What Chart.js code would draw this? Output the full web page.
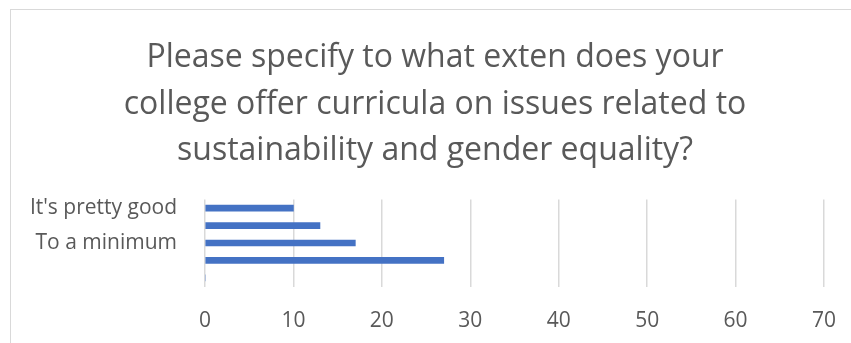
<!DOCTYPE html>
<html lang="en">
<head>
    <meta charset="UTF-8">
    <title>Sustainability and gender equality curricula</title>
    <style>
        html, body {
            margin: 0;
            padding: 0;
            background-color: #ffffff;
            overflow: hidden;
        }
        .frame {
            position: absolute;
            left: 10px;
            top: 9px;
            width: 900px;
            height: 400px;
            border: 1.5px solid #d9d9d9;
            background-color: #ffffff;
        }
        #curriculaChart {
            position: absolute;
            left: 0;
            top: 0;
        }
    </style>
</head>
<body>
    <div class="frame">
        <canvas id="curriculaChart" width="848" height="333"></canvas>
    </div>

    <script src="https://cdn.jsdelivr.net/npm/chart.js"></script>
    <script>
        // Answers, top to bottom (only every other label is printed on the axis)
        const answerLabels = ["It's pretty good", '', 'To a minimum', '', ''];
        const answerCounts = [10, 13, 17, 27, 0];

        const xTicks = [0, 10, 20, 30, 40, 50, 60, 70];

        const titleLines = [
            'Please specify to what exten does your',
            'college offer curricula on issues related to',
            'sustainability and gender equality?'
        ];

        const textColor = '#595959';
        const gridColor = '#d9d9d9';
        const barColor = '#4472c4';

        const ctx = document.getElementById('curriculaChart').getContext('2d');

        const curriculaChart = new Chart(ctx, {
            type: 'bar',
            data: {
                labels: answerLabels,
                datasets: [{
                    label: 'Responses',
                    data: answerCounts,
                    backgroundColor: barColor,
                    borderWidth: 0,
                    barThickness: 6
                }]
            },
            options: {
                indexAxis: 'y',
                responsive: false,
                animation: false,
                layout: {
                    padding: { left: 0, right: 0, top: 0, bottom: 14 }
                },
                plugins: {
                    legend: { display: false },
                    tooltip: { enabled: false },
                    title: {
                        display: true,
                        text: titleLines,
                        color: textColor,
                        font: { family: 'Open Sans', size: 32, weight: 'normal', lineHeight: 1.453 },
                        padding: { top: 25, bottom: 25 }
                    }
                },
                scales: {
                    x: {
                        min: xTicks[0],
                        max: xTicks[xTicks.length - 1],
                        afterBuildTicks: (scale) => {
                            scale.ticks = xTicks.map(v => ({ value: v }));
                        },
                        afterFit: (scale) => {
                            // keep the value axis compact and leave room on the right
                            scale.height = 42.5;
                            scale.paddingRight = 35;
                        },
                        ticks: {
                            color: textColor,
                            font: { family: 'Open Sans', size: 21 },
                            padding: 22,
                            maxRotation: 0
                        },
                        grid: {
                            color: gridColor,
                            lineWidth: 1.5,
                            drawTicks: false
                        },
                        border: { display: false }
                    },
                    y: {
                        afterFit: (scale) => {
                            // fixed label column, no extra room above/below the bars
                            scale.width = 194;
                            scale.paddingTop = 0;
                            scale.paddingBottom = 0;
                        },
                        ticks: {
                            color: textColor,
                            font: { family: 'Open Sans', size: 21 },
                            padding: 28,
                            autoSkip: false
                        },
                        grid: { display: false, drawTicks: false },
                        border: { display: false }
                    }
                }
            }
        });
    </script>
</body>
</html>
